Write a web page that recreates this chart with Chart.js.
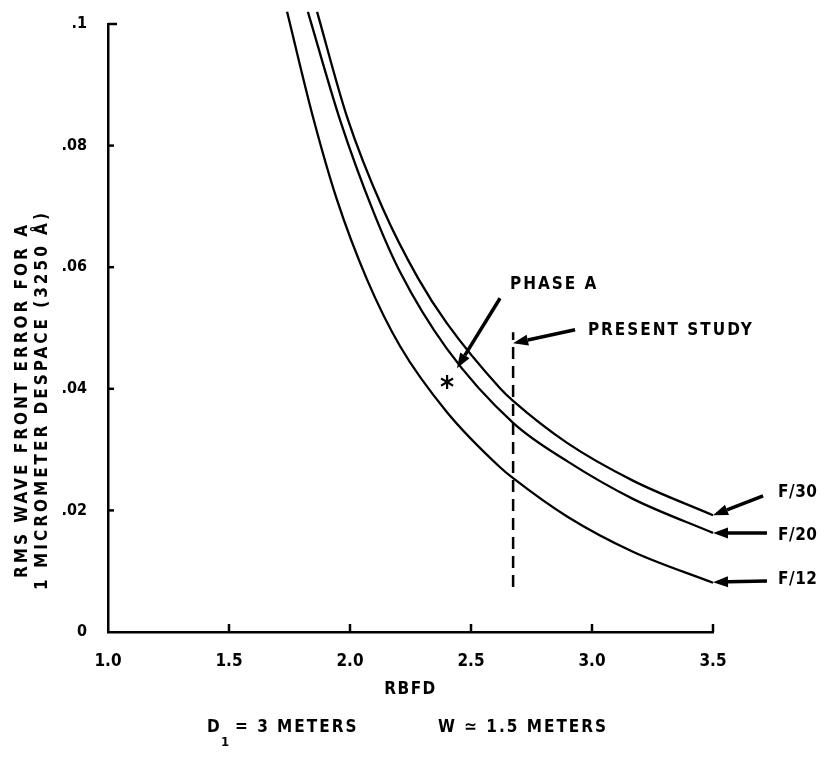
<!DOCTYPE html>
<html>
<head>
<meta charset="utf-8">
<script src="https://cdn.jsdelivr.net/npm/chart.js@4.4.0/dist/chart.umd.min.js"></script>
<style>
  html, body { margin: 0; padding: 0; background: #fff; }
  #wrap { width: 827px; height: 758px; position: relative; }
</style>
</head>
<body>
<div id="wrap"><canvas id="chart" width="827" height="758"></canvas></div>
<script>
// ---- data ----
// RBFD (x) vs RMS wave front error (y), one pair of arrays per f-number curve
const xF30 = [1.864, 1.988, 2.136, 2.281, 2.4, 2.62, 2.674, 2.897, 3.169, 3.5];
const yF30 = [0.102, 0.0847, 0.0696, 0.0582, 0.0508, 0.0401, 0.038, 0.0311, 0.0249, 0.0192];

const xF20 = [1.826, 1.959, 2.095, 2.207, 2.4, 2.674, 2.897, 3.169, 3.5];
const yF20 = [0.102, 0.0842, 0.0693, 0.0592, 0.0466, 0.0344, 0.0281, 0.0219, 0.0163];

const xF12 = [1.74, 1.847, 1.946, 2.07, 2.207, 2.4, 2.62, 2.674, 2.897, 3.169, 3.5];
const yF12 = [0.102, 0.0847, 0.0711, 0.058, 0.047, 0.0362, 0.0271, 0.0253, 0.019, 0.0132, 0.0081];

// "present study" vertical dashed marker and the Phase A design point
const studyX = [2.674, 2.674];
const studyY = [0.0074, 0.0493];
const phaseAX = [2.401];
const phaseAY = [0.041];

// axis ticks
const xTickValues = [1.0, 1.5, 2.0, 2.5, 3.0, 3.5];
const xTickLabels = ['1.0', '1.5', '2.0', '2.5', '3.0', '3.5'];
const yTickValues = [0, 0.02, 0.04, 0.06, 0.08, 0.1];
const yTickLabels = ['0', '.02', '.04', '.06', '.08', '.1'];

// callout texts and their arrows (in data units)
const calloutText = ['PHASE A', 'PRESENT STUDY', 'F/30', 'F/20', 'F/12'];
const calloutX = [2.661, 2.983, 3.769, 3.769, 3.769];
const calloutY = [0.0571, 0.0495, 0.0229, 0.0158, 0.0086];
const arrowFromX = [2.62, 2.93, 3.707, 3.723, 3.723];
const arrowFromY = [0.0549, 0.0497, 0.0224, 0.0163, 0.0084];
const arrowToX = [2.442, 2.674, 3.5, 3.5, 3.5];
const arrowToY = [0.0434, 0.0475, 0.0192, 0.0163, 0.0082];

const yTitleLines = ['RMS WAVE FRONT ERROR FOR A', '1 MICROMETER DESPACE (3250 \u00C5)'];
const xTitle = 'RBFD';

const FONT = '"DejaVu Sans Condensed", "Liberation Sans Narrow", "Liberation Sans", sans-serif';

const toPoints = (xs, ys) => xs.map((x, i) => ({ x: x, y: ys[i] }));

// draws everything the library has no element for: inward ticks, arrows, labels
const annotate = {
    id: 'annotate',
    afterDatasetsDraw(chart) {
        const { ctx, scales: { x, y }, chartArea } = chart;
        ctx.save();
        ctx.strokeStyle = '#000';
        ctx.fillStyle = '#000';

        // inward tick marks
        ctx.lineWidth = 2.5;
        yTickValues.forEach((v, i) => {
            if (i === 0) return;
            const py = y.getPixelForValue(v);
            ctx.beginPath();
            ctx.moveTo(chartArea.left, py);
            ctx.lineTo(chartArea.left + (i === yTickValues.length - 1 ? 9 : 6), py);
            ctx.stroke();
        });
        xTickValues.forEach((v, i) => {
            if (i === 0) return;
            const px = x.getPixelForValue(v);
            ctx.beginPath();
            ctx.moveTo(px, chartArea.bottom);
            ctx.lineTo(px, chartArea.bottom - 8);
            ctx.stroke();
        });

        // arrows
        arrowFromX.forEach((_, i) => {
            const x1 = x.getPixelForValue(arrowFromX[i]);
            const y1 = y.getPixelForValue(arrowFromY[i]);
            const x2 = x.getPixelForValue(arrowToX[i]);
            const y2 = y.getPixelForValue(arrowToY[i]);
            const ang = Math.atan2(y2 - y1, x2 - x1);
            const head = 15, half = 5.5;
            const bx = x2 - head * Math.cos(ang);
            const by = y2 - head * Math.sin(ang);
            ctx.lineWidth = 3.5;
            ctx.beginPath();
            ctx.moveTo(x1, y1);
            ctx.lineTo(bx, by);
            ctx.stroke();
            ctx.beginPath();
            ctx.moveTo(x2, y2);
            ctx.lineTo(bx + half * Math.sin(ang), by - half * Math.cos(ang));
            ctx.lineTo(bx - half * Math.sin(ang), by + half * Math.cos(ang));
            ctx.closePath();
            ctx.fill();
        });

        // callout labels
        ctx.font = 'bold 17px ' + FONT;
        ctx.textBaseline = 'middle';
        ctx.textAlign = 'left';
        calloutText.forEach((t, i) => {
            ctx.letterSpacing = i < 2 ? '2px' : '0.5px';
            ctx.fillText(t, x.getPixelForValue(calloutX[i]), y.getPixelForValue(calloutY[i]));
        });

        // phase A asterisk
        ctx.letterSpacing = '0px';
        ctx.font = 'bold 30px ' + FONT;
        ctx.textAlign = 'center';
        phaseAX.forEach((v, i) => {
            ctx.fillText('*', x.getPixelForValue(v), y.getPixelForValue(phaseAY[i]) + 6);
        });
        ctx.restore();
    },
    afterDraw(chart) {
        const { ctx, chartArea } = chart;
        ctx.save();
        ctx.fillStyle = '#000';

        // y title, two rotated lines
        ctx.letterSpacing = '3px';
        ctx.font = 'bold 17px ' + FONT;
        ctx.textAlign = 'center';
        ctx.textBaseline = 'middle';
        yTitleLines.forEach((t, i) => {
            ctx.save();
            ctx.translate(23 + i * 20, 400);
            ctx.rotate(-Math.PI / 2);
            ctx.fillText(t, 0, 0);
            ctx.restore();
        });

        // x title
        ctx.letterSpacing = '1.5px';
        ctx.font = 'bold 17px ' + FONT;
        ctx.fillText(xTitle, (chartArea.left + chartArea.right) / 2, 690);

        // parameter notes under the chart
        ctx.letterSpacing = '2px';
        ctx.textAlign = 'left';
        ctx.textBaseline = 'alphabetic';
        ctx.font = 'bold 17px ' + FONT;
        ctx.fillText('D', 207, 732);
        ctx.font = 'bold 13px ' + FONT;
        ctx.fillText('1', 221, 746);
        ctx.font = 'bold 17px ' + FONT;
        ctx.fillText('= 3 METERS', 235, 732);
        ctx.fillText('W \u2243 1.5 METERS', 438, 732);
        ctx.restore();
    }
};

const lineStyle = {
    borderColor: '#000',
    borderWidth: 2.3,
    pointRadius: 0,
    fill: false,
    cubicInterpolationMode: 'monotone',
    clip: false
};

new Chart(document.getElementById('chart'), {
    type: 'line',
    data: {
        datasets: [
            { label: 'F/30', data: toPoints(xF30, yF30), ...lineStyle },
            { label: 'F/20', data: toPoints(xF20, yF20), ...lineStyle },
            { label: 'F/12', data: toPoints(xF12, yF12), ...lineStyle },
            {
                label: 'Present study',
                data: toPoints(studyX, studyY),
                borderColor: '#000',
                borderWidth: 2.5,
                borderDash: [12, 7],
                pointRadius: 0,
                clip: false
            }
        ]
    },
    options: {
        responsive: false,
        animation: false,
        layout: { padding: { top: 24, right: 114, bottom: 0, left: 0 } },
        plugins: { legend: { display: false }, tooltip: { enabled: false } },
        scales: {
            x: {
                type: 'linear',
                min: 1.0,
                max: 3.5,
                afterBuildTicks: s => { s.ticks = xTickValues.map(v => ({ value: v })); },
                afterFit: s => { s.height = 126; },
                grid: { display: false },
                border: { display: true, color: '#000', width: 2.5 },
                ticks: {
                    padding: 11,
                    color: '#000',
                    font: { family: FONT, size: 17, weight: 'bold' },
                    maxRotation: 0,
                    callback: (v, i) => xTickLabels[i]
                }
            },
            y: {
                type: 'linear',
                min: 0,
                max: 0.1,
                afterBuildTicks: s => { s.ticks = yTickValues.map(v => ({ value: v })); },
                afterFit: s => { s.width = 108; },
                grid: { display: false },
                border: { display: true, color: '#000', width: 2.5 },
                ticks: {
                    padding: 13,
                    color: '#000',
                    font: { family: FONT, size: 16, weight: 'bold' },
                    callback: (v, i) => yTickLabels[i]
                }
            }
        }
    },
    plugins: [annotate]
});
</script>
</body>
</html>
